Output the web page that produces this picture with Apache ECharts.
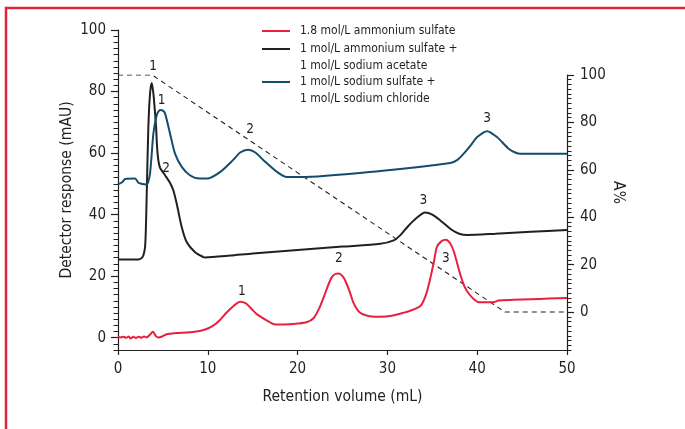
<!DOCTYPE html>
<html>
<head>
<meta charset="utf-8">
<script src="https://cdn.jsdelivr.net/npm/echarts@6/dist/echarts.min.js"></script>
<style>
    html, body { margin: 0; padding: 0; background: #fff; }
    #chart { width: 685px; height: 429px; }
</style>
</head>
<body>
<div id="chart"></div>
<script>
/* ========== 数据 ========== */
const FONT = "'Liberation Sans Narrow', 'DejaVu Sans Condensed', Roboto, sans-serif";
const INK = "#231F20";

const seriesNames = [
    "1.8 mol/L ammonium sulfate",
    "1 mol/L ammonium sulfate +\n1 mol/L sodium acetate",
    "1 mol/L sodium sulfate +\n1 mol/L sodium chloride",
];
const seriesColors = ["#E8203F", "#231F20", "#124E6B"];

// [retention volume (mL), detector response (mAU)]
const redData = [
    [0, 0.2], [0.3, 0.1], [0.6, 0.3], [0.9, 0.0], [1.2, 0.4], [1.4, -0.3], [1.7, 0.3], [2.0, -0.1],
    [2.3, 0.3], [2.6, 0.0], [2.9, 0.4], [3.2, 0.1], [3.5, 0.8], [3.9, 1.9], [4.2, 0.6], [4.5, 0.1],
    [4.9, 0.4], [5.5, 1.2], [6.5, 1.5], [8, 1.8], [9.1, 2.2], [10, 3.0], [10.6, 3.9], [11.3, 5.6],
    [12.1, 8.2], [12.9, 10.4], [13.6, 11.7], [14.2, 11.2], [14.7, 9.9], [15.4, 7.8], [16, 6.6],
    [16.8, 5.2], [17.5, 4.3], [18.5, 4.3], [20, 4.6], [21, 5.0], [21.8, 6.4], [22.4, 9.5],
    [22.9, 13.1], [23.4, 17.0], [23.8, 19.6], [24.2, 20.7], [24.6, 20.9], [25.0, 20.0], [25.3, 18.6],
    [25.8, 15.0], [26.2, 11.5], [26.7, 8.9], [27.2, 7.7], [28, 7.0], [29.2, 6.8], [30.5, 7.1],
    [31.4, 7.8], [32.5, 8.7], [33.7, 10.4], [34.3, 14.0], [34.8, 19.6], [35.2, 25.0], [35.5, 29.4],
    [36.0, 31.3], [36.5, 31.8], [37.0, 30.6], [37.4, 28.0], [38.1, 20.7], [38.6, 16.5], [39.1, 14.2],
    [39.7, 12.3], [40.2, 11.5], [41.5, 11.5], [41.9, 11.6], [42.4, 12.1], [44, 12.3], [46, 12.5],
    [48, 12.7], [50, 12.9],
];
const blackData = [
    [0, 25.4], [1, 25.4], [2.26, 25.4], [2.6, 25.8], [2.82, 26.7], [3.01, 29.4], [3.1, 35],
    [3.2, 46.8], [3.38, 68.5], [3.57, 79.4], [3.76, 82.8], [3.94, 79.4], [4.1, 74], [4.24, 68.5],
    [4.35, 62], [4.49, 57.7], [4.68, 55.2], [5.0, 53.8], [5.24, 52.8], [5.8, 50.3], [6.16, 47.9],
    [6.54, 43.5], [7.1, 35.9], [7.66, 31.0], [8.58, 27.8], [9.51, 26.2], [9.7, 26.1], [12.5, 26.7],
    [15, 27.4], [20, 28.5], [25, 29.6], [29.2, 30.5], [30.7, 31.6], [31.5, 33.5], [32.2, 35.9],
    [33.2, 38.8], [34.2, 40.7], [35.0, 40.0], [35.9, 38.1], [37.2, 35.0], [38.0, 33.8], [38.9, 33.4],
    [42, 33.8], [46, 34.4], [50, 35.0],
];
const blueData = [
    [0, 49.8], [0.5, 50.6], [0.8, 51.6], [1.9, 51.7], [2.3, 50.3], [3.2, 49.8], [3.4, 51],
    [3.57, 53.4], [3.75, 59.5], [3.94, 66.3], [4.31, 72.3], [4.68, 74.0], [5.0, 73.8], [5.24, 72.9],
    [5.8, 66.3], [6.35, 59.8], [7.1, 55.5], [8.0, 52.8], [9.1, 51.7], [9.9, 51.7], [11.4, 53.9],
    [12.8, 57.7], [13.6, 60.2], [14.5, 61.1], [15.3, 60.2], [16.2, 57.7], [17.7, 53.9], [18.8, 52.2],
    [20.3, 52.2], [29.2, 54.2], [37.0, 56.8], [37.8, 57.8], [38.5, 59.8], [39.3, 62.6], [40.0, 65.2],
    [41.1, 67.1], [42.2, 65.2], [43.5, 61.4], [44.3, 60.1], [44.8, 59.8], [50, 59.8],
];
// gradient, [retention volume (mL), A%]
const gradientData = [[0, 100], [3.8, 100], [43.1, 0], [50, 0]];

// peak numbers: [mL, mAU, text]
const redPeaks = [[13.8, 15.1, "1"], [24.6, 25.9, "2"], [36.5, 25.6, "3"]];
const blackPeaks = [[3.9, 88.1, "1"], [5.35, 55.0, "2"], [34.0, 44.6, "3"]];
const bluePeaks = [[4.87, 77.0, "1"], [14.7, 67.7, "2"], [41.1, 71.2, "3"]];

const xTicks = [0, 10, 20, 30, 40, 50];
const yMajor = [0, 20, 40, 60, 80, 100];

/* ========== 图表 ========== */
function peakMarks(peaks) {
    return {
        symbol: "circle",
        symbolSize: 0,
        label: { show: true, position: "inside", color: INK, fontSize: 13.5, fontFamily: FONT, formatter: "{b}" },
        data: peaks.map(p => ({ name: p[2], coord: [p[0], p[1]] })),
    };
}

function lineSeries(i, data, peaks) {
    return {
        name: seriesNames[i],
        type: "line",
        xAxisIndex: 0,
        yAxisIndex: 0,
        data,
        smooth: 0.25,
        showSymbol: false,
        symbol: "none",
        lineStyle: { color: seriesColors[i], width: 2 },
        itemStyle: { color: seriesColors[i] },
        markPoint: peakMarks(peaks),
        z: 3,
    };
}

// 两行的图例前面加一个空行，让图标对齐第一行
function legendFor(i, top) {
    return {
        orient: "vertical",
        left: 262,
        top,
        padding: 0,
        icon: "rect",
        itemWidth: 28,
        itemHeight: 2,
        itemGap: 0,
        data: [seriesNames[i]],
        selectedMode: false,
        formatter: name => {
            const lines = name.split("\n").map(l => `{t|${l}}`);
            return (lines.length > 1 ? "{t| }\n" : "") + lines.join("\n");
        },
        textStyle: {
            color: INK, fontSize: 12, fontFamily: FONT, lineHeight: 16.5,
            rich: { t: { color: INK, fontSize: 12, fontFamily: FONT, lineHeight: 16.5, padding: [0, 0, 0, 5] } },
        },
    };
}

const noZero = { onZero: false };
const leftAxisBase = { gridIndex: 0, type: "value", position: "left", min: -4, max: 100, splitLine: { show: false } };
const rightAxisBase = { gridIndex: 1, type: "value", position: "right", min: -16, max: 100, splitLine: { show: false } };

const chart = echarts.init(document.getElementById("chart"));
chart.setOption({
    animation: false,
    textStyle: { fontFamily: FONT, color: INK },
    legend: [legendFor(0, 22.75), legendFor(1, 24.25), legendFor(2, 57.25)],
    graphic: [{
        type: "polyline",
        shape: { points: [[6, 429], [6, 8], [685, 8]] },
        style: { stroke: "#E3223F", lineWidth: 2.5, fill: null },
        silent: true,
    }],
    grid: [
        { left: 118, right: 118, top: 30, bottom: 79 },
        { left: 118, right: 118, top: 75, bottom: 79 },
    ],
    xAxis: [{
        gridIndex: 0, type: "value", position: "bottom", min: 0, max: 50, interval: 10,
        axisLine: { ...noZero, lineStyle: { color: INK, width: 1.2 } },
        axisTick: { length: 5, lineStyle: { color: INK, width: 1.2 } },
        axisLabel: { color: INK, fontSize: 15, margin: 12, fontFamily: FONT },
        splitLine: { show: false },
        name: "Retention volume (mL)", nameLocation: "middle", nameGap: 39, nameMoveOverlap: false,
        nameTextStyle: { color: INK, fontSize: 15.5, fontFamily: FONT },
    }, {
        gridIndex: 1, type: "value", position: "bottom", min: 0, max: 50, show: false,
        axisLine: { ...noZero },
    }],
    yAxis: [{
        ...leftAxisBase,
        interval: 2,
        axisLine: { show: true, ...noZero, lineStyle: { color: INK, width: 1.2 } },
        axisTick: { length: 4.5, lineStyle: { color: INK, width: 1 } },
        axisLabel: {
            color: INK, fontSize: 15, margin: 12, fontFamily: FONT,
            formatter: v => (yMajor.includes(v) ? String(v) : ""),
        },
        name: "Detector response (mAU)", nameLocation: "middle", nameGap: 43, nameMoveOverlap: false,
        nameTextStyle: { color: INK, fontSize: 15.5, fontFamily: FONT },
    }, {
        ...leftAxisBase,
        axisLine: { show: false, ...noZero },
        axisTick: { show: true, length: 7, customValues: yMajor, lineStyle: { color: INK, width: 1.2 } },
        axisLabel: { show: false },
    }, {
        ...rightAxisBase,
        interval: 2,
        axisLine: { show: true, ...noZero, lineStyle: { color: INK, width: 1.2 } },
        axisTick: { length: 4.5, lineStyle: { color: INK, width: 1 } },
        axisLabel: {
            color: INK, fontSize: 15, margin: 13, fontFamily: FONT,
            formatter: v => (yMajor.includes(v) ? String(v) : ""),
        },
        name: "A%", nameLocation: "middle", nameGap: 43, nameRotate: -90, nameMoveOverlap: false,
        nameTextStyle: { color: INK, fontSize: 15.5, fontFamily: FONT, padding: [0, 40, 0, 0] },
    }, {
        ...rightAxisBase,
        axisLine: { show: false, ...noZero },
        axisTick: { show: true, length: 7, customValues: yMajor, lineStyle: { color: INK, width: 1.2 } },
        axisLabel: { show: false },
    }],
    series: [
        {
            name: "gradient",
            type: "line",
            xAxisIndex: 1,
            yAxisIndex: 2,
            data: gradientData,
            showSymbol: false,
            symbol: "none",
            lineStyle: { color: INK, width: 1.1, type: [5, 4] },
            z: 2,
        },
        lineSeries(1, blackData, blackPeaks),
        lineSeries(2, blueData, bluePeaks),
        lineSeries(0, redData, redPeaks),
    ],
});
</script>
</body>
</html>
